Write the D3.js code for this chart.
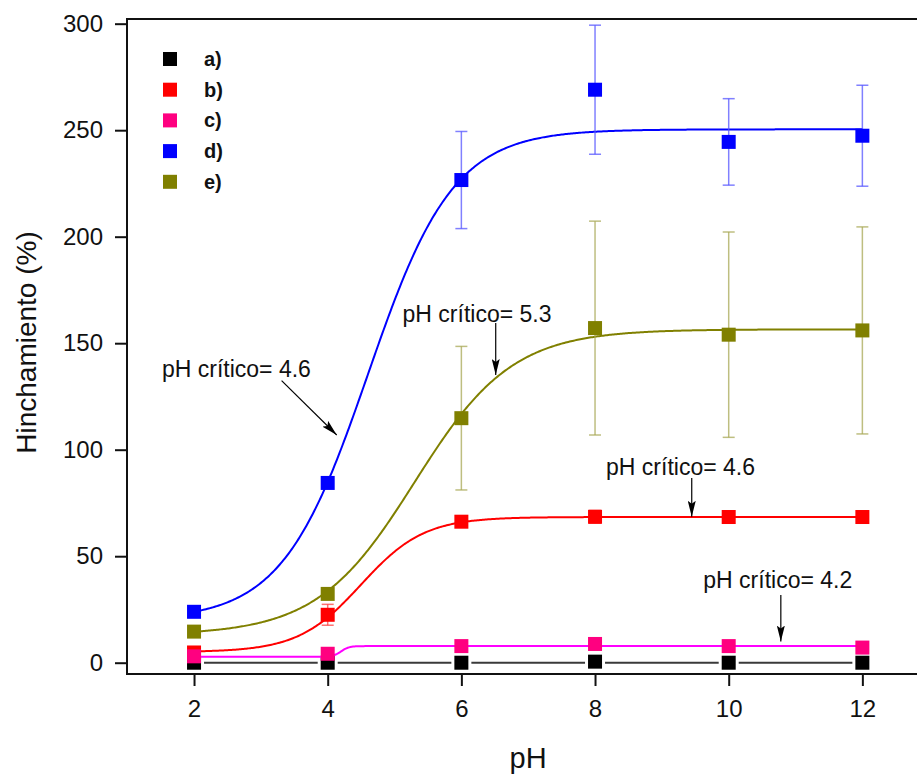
<!DOCTYPE html>
<html>
<head>
<meta charset="utf-8">
<script src="https://cdn.jsdelivr.net/npm/d3@7"></script>
<style>
  html, body { margin: 0; padding: 0; background: #fff; }
  svg { display: block; font-family: Arial, "Liberation Sans", sans-serif; }
</style>
</head>
<body>
<svg id="chart" width="917" height="774"></svg>
<script>
// pH values at which swelling was measured
const pH = [2, 4, 6, 8, 10, 12];

// Swelling (%) per sample, with standard deviations
const serieA = [0, 0, 0, 0.5, 0, 0];
const errA   = [0, 0, 0, 0, 0, 0];
const serieB = [4.8, 22.5, 66.2, 68.5, 68.4, 68.4];
const errB   = [0, 4.9, 1.5, 3, 2.5, 0];
const serieC = [3.0, 4.2, 7.8, 8.8, 7.8, 7.1];
const errC   = [0, 0, 0, 0, 0, 0];
const serieD = [23.9, 84.4, 226.6, 269, 244.5, 247.4];
const errD   = [0, 0, 22.8, 30.3, 20.3, 23.7];
const serieE = [14.6, 32.3, 114.8, 157.1, 154, 156];
const errE   = [0, 0, 33.7, 50.2, 48.2, 48.6];

// Boltzmann sigmoid fit parameters [A1, A2, x0, dx] for each sample
const fitA = [0, 0, 4, 1];
const fitB = [5, 68.4, 4.5, 0.47];
const fitC = [2.8, 7.8, 4.2, 0.06];
const fitD = [20, 250.4, 4.6, 0.64];
const fitE = [13, 156.5, 5.3, 0.73];

const legendLabels = ["a)", "b)", "c)", "d)", "e)"];
const xTicks = [2, 4, 6, 8, 10, 12];
const yTicks = [0, 50, 100, 150, 200, 250, 300];

const series = [
  { name: legendLabels[0], values: serieA, err: errA, fit: fitA, marker: "#000000", line: "#3a3a3a", errColor: "#000000" },
  { name: legendLabels[1], values: serieB, err: errB, fit: fitB, marker: "#ff0000", line: "#ff0000", errColor: "#ff4040" },
  { name: legendLabels[2], values: serieC, err: errC, fit: fitC, marker: "#ff0080", line: "#ff00ff", errColor: "#ff0080" },
  { name: legendLabels[3], values: serieD, err: errD, fit: fitD, marker: "#0000ff", line: "#0000ff", errColor: "#5555ff" },
  { name: legendLabels[4], values: serieE, err: errE, fit: fitE, marker: "#808000", line: "#808000", errColor: "#a8a855" }
];

// Critical pH annotations (data coordinates)
const notes = [
  { text: "pH crítico= 4.6", tx: 1.52, ty: 134.3, from: [3.31, 132.4], to: [4.135, 106.9] },
  { text: "pH crítico= 5.3", tx: 5.12, ty: 160.1, from: [6.514, 159.5], to: [6.514, 135.1] },
  { text: "pH crítico= 4.6", tx: 8.165, ty: 88.1, from: [9.447, 86.7], to: [9.447, 68.5] },
  { text: "pH crítico= 4.2", tx: 9.62, ty: 34.9, from: [10.78, 31.8], to: [10.78, 9.9] }
];

const boltzmann = (p, v) => p[1] + (p[0] - p[1]) / (1 + Math.exp((v - p[2]) / p[3]));

const svg = d3.select("#chart");
const plotLeft = 127, plotTop = 19, plotBottom = 674;

const x = d3.scaleLinear().domain([1, 13]).range([127.2, 929.2]);
const y = d3.scaleLinear().domain([-5.3, 302.2]).range([plotBottom, plotTop]);

const plot = svg.append("g");

// fitted curves
const lineGen = d3.line().x(d => x(d[0])).y(d => y(d[1]));
const grid = d3.range(2, 12.0001, 0.02);

series.forEach((s, i) => {
  const g = plot.append("g");
  g.append("path")
    .datum(grid.map(v => [v, boltzmann(s.fit, v)]))
    .attr("fill", "none")
    .attr("stroke", s.line)
    .attr("stroke-width", 2)
    .attr("d", lineGen);

  // error bars
  const eb = g.selectAll(".eb")
    .data(pH.map((p, k) => ({ p, v: s.values[k], e: s.err[k] })).filter(d => d.e > 0))
    .join("g")
    .attr("class", "eb")
    .attr("stroke", s.errColor)
    .attr("stroke-opacity", 0.75)
    .attr("stroke-width", 1.5);
  eb.append("line")
    .attr("x1", d => x(d.p)).attr("x2", d => x(d.p))
    .attr("y1", d => y(d.v - d.e)).attr("y2", d => y(d.v + d.e));
  eb.append("line")
    .attr("x1", d => x(d.p) - 6).attr("x2", d => x(d.p) + 6)
    .attr("y1", d => y(d.v + d.e)).attr("y2", d => y(d.v + d.e));
  eb.append("line")
    .attr("x1", d => x(d.p) - 6).attr("x2", d => x(d.p) + 6)
    .attr("y1", d => y(d.v - d.e)).attr("y2", d => y(d.v - d.e));

  // square markers
  g.selectAll("rect.m")
    .data(pH.map((p, k) => ({ p, v: s.values[k] })))
    .join("rect")
    .attr("class", "m")
    .attr("x", d => x(d.p) - 7)
    .attr("y", d => y(d.v) - 7)
    .attr("width", 14)
    .attr("height", 14)
    .attr("fill", s.marker)
    .attr("stroke", i === 0 ? "#ffffff" : "none")
    .attr("stroke-width", i === 0 ? 6 : 0)
    .attr("paint-order", "stroke");
});

// annotations with arrows
const defs = svg.append("defs");
defs.append("marker")
  .attr("id", "arrow")
  .attr("viewBox", "0 0 16 8")
  .attr("refX", 16).attr("refY", 4)
  .attr("markerWidth", 16).attr("markerHeight", 8)
  .attr("markerUnits", "userSpaceOnUse")
  .attr("orient", "auto")
  .append("path")
  .attr("d", "M0,0 L16,4 L0,8 L3,4 Z")
  .attr("fill", "#000");

const ann = svg.append("g");
notes.forEach(n => {
  ann.append("text")
    .attr("x", x(n.tx)).attr("y", y(n.ty))
    .attr("font-size", 23)
    .attr("fill", "#111")
    .text(n.text);
  ann.append("line")
    .attr("x1", x(n.from[0])).attr("y1", y(n.from[1]))
    .attr("x2", x(n.to[0])).attr("y2", y(n.to[1]))
    .attr("stroke", "#000").attr("stroke-width", 1.2)
    .attr("marker-end", "url(#arrow)");
});

// axes
const yAxis = d3.axisLeft(y).tickValues(yTicks).tickSize(12).tickPadding(12);
const xAxis = d3.axisBottom(x).tickValues(xTicks).tickSize(12).tickPadding(14);

const gy = svg.append("g").attr("transform", `translate(${plotLeft},0)`).call(yAxis);
const gx = svg.append("g").attr("transform", `translate(0,${plotBottom})`).call(xAxis);
[gx, gy].forEach(g => {
  g.select(".domain").remove();
  g.selectAll(".tick line").attr("stroke", "#111").attr("stroke-width", 2);
  g.selectAll(".tick text").attr("font-size", 24).attr("fill", "#111")
    .attr("font-family", "Arial, 'Liberation Sans', sans-serif");
});

// frame: left, bottom and top lines
svg.append("path")
  .attr("d", `M${x(13)},${plotTop} H${plotLeft} V${plotBottom} H${x(13)}`)
  .attr("fill", "none").attr("stroke", "#111").attr("stroke-width", 2);

// axis titles
svg.append("text")
  .attr("x", (plotLeft + x(13)) / 2).attr("y", 768)
  .attr("text-anchor", "middle").attr("font-size", 29).attr("fill", "#111")
  .text("pH");
svg.append("text")
  .attr("transform", `translate(36,${(plotTop + plotBottom) / 2 - 4}) rotate(-90)`)
  .attr("text-anchor", "middle").attr("font-size", 28).attr("fill", "#111")
  .text("Hinchamiento (%)");

// legend
const leg = svg.append("g").attr("transform", "translate(170,59)");
series.forEach((s, i) => {
  const r = leg.append("g").attr("transform", `translate(0,${i * 30.7})`);
  r.append("rect").attr("x", -7).attr("y", -7).attr("width", 14).attr("height", 14).attr("fill", s.marker);
  r.append("text").attr("x", 34).attr("y", 7)
    .attr("font-size", 20).attr("font-weight", "bold").attr("fill", "#111")
    .text(s.name);
});
</script>
</body>
</html>
